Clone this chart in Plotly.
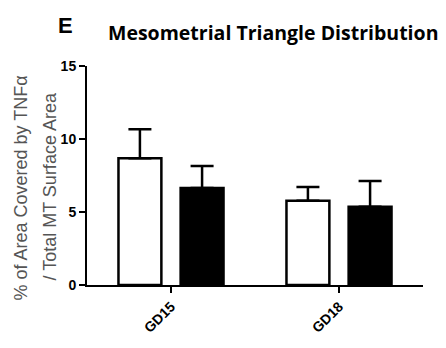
import plotly.graph_objects as go

categories = ["GD15", "GD18"]
white_means = [8.69, 5.77]
white_err = [1.97, 0.95]
black_means = [6.65, 5.36]
black_err = [1.50, 1.77]
y_ticks = [0, 5, 10, 15]
y_title_lines = ["% of Area Covered by TNFα", "/ Total MT Surface Area"]

fig = go.Figure()
fig.add_trace(go.Bar(
    x=categories, y=white_means, name="white",
    marker=dict(color="white", line=dict(color="black", width=2.5)),
    error_y=dict(type="data", array=white_err, arrayminus=[0] * len(white_err),
                 symmetric=False, color="black", thickness=2.5, width=11.5),
))
fig.add_trace(go.Bar(
    x=categories, y=black_means, name="black",
    marker=dict(color="black", line=dict(color="black", width=2.5)),
    error_y=dict(type="data", array=black_err, arrayminus=[0] * len(black_err),
                 symmetric=False, color="black", thickness=2.5, width=11.5),
))

tickfont = dict(family="Liberation Sans", size=14, color="black", weight="bold")

ytitle_font = dict(family="Liberation Sans", size=18, color="#555555")

fig.update_layout(
    width=446, height=348,
    margin=dict(l=87, r=23, t=66, b=61),
    paper_bgcolor="white", plot_bgcolor="white",
    barmode="group", bargap=0.26, bargroupgap=0.31,
    showlegend=False,
    xaxis=dict(
        range=[-0.5, 1.5], showline=True, linecolor="black", linewidth=2,
        ticks="outside", ticklen=6, tickwidth=2, tickcolor="black",
        tickangle=-45, tickfont=tickfont, showgrid=False, zeroline=False,
    ),
    yaxis=dict(
        range=[0, 15], tickvals=y_ticks, showline=True, linecolor="black",
        linewidth=2, ticks="outside", ticklen=6, tickwidth=2, tickcolor="black",
        tickfont=tickfont, showgrid=False, zeroline=False,
    ),
    annotations=[
        dict(text=y_title_lines[0],
             xref="paper", yref="paper", x=0, y=0.5, xanchor="center",
             yanchor="middle", xshift=-67, yshift=-13, textangle=-90,
             showarrow=False, font=ytitle_font),
        dict(text=y_title_lines[1],
             xref="paper", yref="paper", x=0, y=0.5, xanchor="center",
             yanchor="middle", xshift=-38, yshift=-11, textangle=-90,
             showarrow=False, font=ytitle_font),
        dict(text="<b>Mesometrial Triangle Distribution</b>",
             xref="paper", yref="paper", x=0.555, y=1, xanchor="center",
             yanchor="middle", yshift=34, showarrow=False,
             font=dict(family="Open Sans", size=19.5, color="black")),
        dict(text="<b>E</b>",
             xref="paper", yref="paper", x=0, y=1, xanchor="center",
             yanchor="middle", xshift=-21.5, yshift=41, showarrow=False,
             font=dict(family="Liberation Sans", size=22, color="black")),
    ],
)

fig.write_html("out.html")
